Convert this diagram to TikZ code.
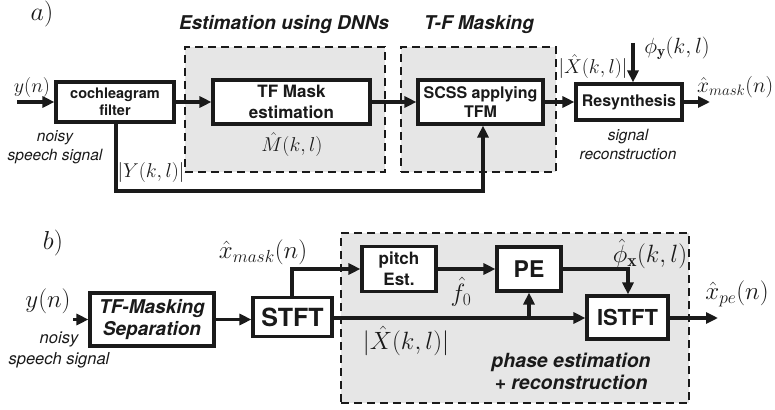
\RequirePackage{fix-cm}
\documentclass[tikz,border=0pt]{standalone}
\usepackage{fontspec}
\setsansfont{TeX Gyre Heros}
\usetikzlibrary{arrows.meta}
\newcommand\myfs[2]{\fontsize{#1}{#2}\selectfont}
\definecolor{ink}{HTML}{1A1A1A}
\definecolor{bgray}{HTML}{E6E6E6}
\begin{document}
\begin{tikzpicture}[x=1pt,y=-1pt,
 blk/.style={draw=ink, line width=3.1pt, fill=white, align=center, inner sep=0pt, text=ink},
 grp/.style={draw=ink, line width=1.6pt, dash pattern=on 8pt off 5pt, fill=bgray, inner sep=0pt},
 conn/.style={draw=ink, line width=3.3pt, -{Triangle[length=12pt,width=11pt]}},
 lab/.style={inner sep=0pt, text=ink},
 mtha/.style={lab, font=\myfs{20}{22}},
 mthb/.style={lab, font=\myfs{25}{27}},
 capa/.style={lab, align=center, font=\sffamily\itshape\myfs{15.5}{19}},
 capb/.style={lab, align=center, font=\sffamily\itshape\myfs{16.5}{21}},
 ttl/.style={lab, align=center, font=\sffamily\bfseries\itshape\myfs{19}{22}},
]
\useasboundingbox (0,0) rectangle (775,409);
\fill[white] (0,0) rectangle (775,409);

% ---------- part a ----------
\node[grp, minimum width=200pt, minimum height=125pt] (grpA1) at (285,109.5) {};
\node[grp, minimum width=155pt, minimum height=125pt] (grpA2) at (478.5,109.5) {};
\node[ttl] (t1) at (284,25) {Estimation using DNNs};
\node[ttl] (t2) at (479,25) {T-F Masking};
\node[lab, font=\myfs{26}{28}] (la) at (42,14) {$a)$};

\node[blk, minimum width=118pt, minimum height=40pt, font=\sffamily\bfseries\myfs{14.5}{17}] (coch) at (115,102) {cochleagram\\filter};
\node[blk, minimum width=157pt, minimum height=44pt, font=\sffamily\bfseries\myfs{17}{21}] (tfm) at (291.5,102) {TF Mask\\estimation};
\node[blk, minimum width=125pt, minimum height=44pt, font=\sffamily\bfseries\myfs{16}{19}] (scss) at (480.5,102) {SCSS applying\\TFM};
\node[blk, minimum width=106pt, minimum height=36pt, font=\sffamily\bfseries\myfs{16}{19}] (resyn) at (629,102) {Resynthesis};

\coordinate (ain) at (17,102);
\coordinate (phitop) at (633,43);
\coordinate (aout) at (710,102);
\coordinate (fbL) at (116,191);
\coordinate (fbR) at (483,191);
\draw[conn] (ain) -- (coch);
\draw[conn] (coch) -- (tfm);
\draw[conn] (tfm) -- (scss);
\draw[conn] (scss) -- (resyn);
\draw[conn] (phitop) -- (phitop |- resyn.north);
\draw[conn] (resyn) -- (aout);
\draw[conn] (fbL |- coch.south) -- (fbL) -- (fbR) -- (fbR |- scss.south);

\node[mtha] (yn) at (32,88) {$y(n)$};
\node[capa] (noisyA) at (55,147) {noisy\\speech signal};
\node[mtha] (Mhat) at (292,145) {$\hat{M}(k,l)$};
\node[mtha] (Ymag) at (151,172) {$|Y(k,l)|$};
\node[mtha] (Xmag) at (593,67) {$|\hat{X}(k,l)|$};
\node[mtha, font=\myfs{22}{24}] (phiy) at (677,48) {$\phi_{\mathbf{y}}(k,l)$};
\node[mtha, anchor=west, font=\myfs{21.5}{24}] (xmask) at (697,87) {$\hat{x}_{mask}(n)$};
\node[capa] (sigrec) at (628,144) {signal\\reconstruction};

% ---------- part b ----------
\node[grp, minimum width=348pt, minimum height=170pt] (grpB) at (515,318) {};
\node[lab, font=\myfs{26}{28}] (lb) at (53,243) {$b)$};

\node[blk, minimum width=124pt, minimum height=53pt, font=\sffamily\bfseries\itshape\myfs{19}{22}] (tfsep) at (152,319.5) {TF-Masking\\Separation};
\node[blk, minimum width=79pt, minimum height=39pt, font=\sffamily\bfseries\myfs{25}{27}] (stft) at (292.5,317) {STFT};
\node[blk, minimum width=74pt, minimum height=45pt, font=\sffamily\bfseries\myfs{17}{21}] (pitch) at (399,269) {pitch\\Est.};
\node[blk, minimum width=64pt, minimum height=44pt, font=\sffamily\bfseries\myfs{23}{25}] (pe) at (529,269) {PE};
\node[blk, minimum width=81pt, minimum height=43pt, font=\sffamily\bfseries\myfs{22}{24}] (istft) at (627.5,317.5) {ISTFT};

\coordinate (bin) at (73,319.5);
\coordinate (bend1) at (292,269);
\coordinate (bend2) at (628,269);
\coordinate (mline) at (340,318);
\coordinate (junc) at (529,318);
\coordinate (bout) at (718,318);
\draw[conn] (bin) -- (tfsep);
\draw[conn] (tfsep) -- (stft.west |- tfsep);
\draw[conn] (stft.north -| bend1) -- (bend1) -- (pitch);
\draw[conn] (pitch) -- (pe);
\draw[conn] (pe) -- (bend2) -- (bend2 |- istft.north);
\draw[conn] (stft.east |- mline) -- (istft.west |- mline);
\draw[conn] (junc) -- (pe.south);
\draw[conn] (istft.east |- bout) -- (bout);

\node[mthb] (xmaskb) at (263,252) {$\hat{x}_{mask}(n)$};
\node[mthb] (ynb) at (48,301) {$y(n)$};
\node[capb] (noisyB) at (59,350) {noisy\\speech signal};
\node[mthb] (f0) at (461,292) {$\hat{f}_0$};
\node[mthb] (phix) at (650,254) {$\hat{\phi}_{\mathbf{x}}(k,l)$};
\node[mthb] (Xmagb) at (406,341) {$|\hat{X}(k,l)|$};
\node[mthb] (xpe) at (737,294) {$\hat{x}_{pe}(n)$};
\node[ttl, font=\sffamily\bfseries\itshape\myfs{19.5}{22}] (phest) at (571,371) {phase estimation\\+ reconstruction};
\end{tikzpicture}
\end{document}
